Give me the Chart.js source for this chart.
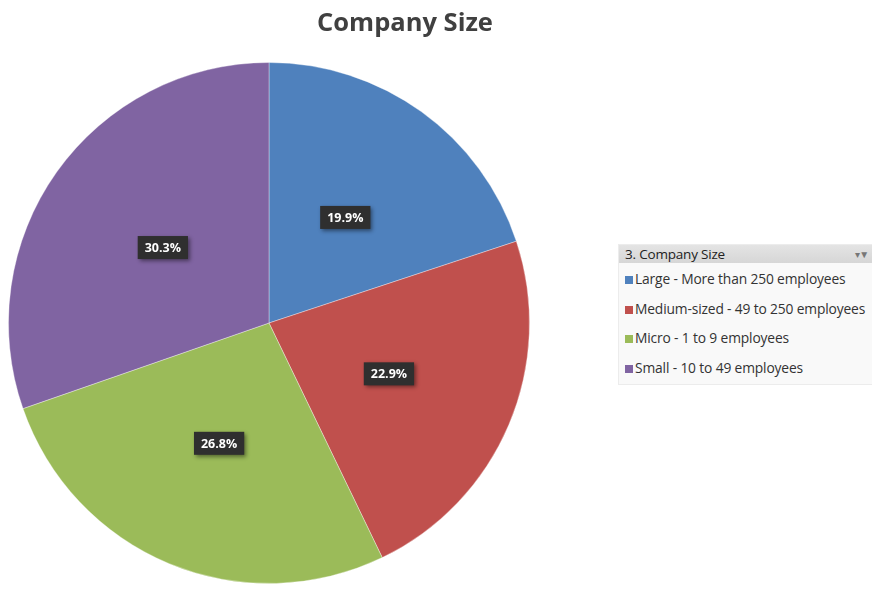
<!DOCTYPE html>
<html lang="en">
<head>
  <meta charset="utf-8">
  <script src="https://cdn.jsdelivr.net/npm/chart.js@4.4.1/dist/chart.umd.min.js"></script>
  <style>
    body { margin: 0; background: #fff; }
    .wrap { position: relative; width: 872px; height: 589px; overflow: hidden; background: #fff; }
    .chart-box { position: absolute; left: 0; top: 0; width: 872px; height: 589px; }
    .title {
      position: absolute; left: 0; top: 4px; width: 810px; text-align: center;
      font-family: 'Open Sans', 'Liberation Sans', sans-serif;
      font-size: 25.5px; font-weight: bold; color: #404040; margin: 0;
    }
    .legend {
      position: absolute; left: 618px; top: 244px; width: 262px; height: 139px;
      background: #f9f9f9; border: 1px solid #ececec;
      font-family: 'Open Sans', 'Liberation Sans', sans-serif; color: #333;
    }
    .legend .head {
      height: 18px; line-height: 18px; padding-left: 6px;
      background: linear-gradient(#e4e4e4, #d6d6d6);
      font-size: 13.5px; color: #222; position: relative; letter-spacing: -0.2px;
    }
    .legend .head .filt {
      position: absolute; right: 12px; top: 0; color: #777; font-size: 10px;
    }
    .legend ul { list-style: none; margin: 0; padding: 1px 0 0 0; }
    .legend li {
      height: 29.5px; line-height: 29.5px; font-size: 13.8px; white-space: nowrap;
      padding-left: 6px; letter-spacing: -0.15px;
    }
    .legend li span.sw {
      display: inline-block; width: 8px; height: 8px; margin-right: 2px; vertical-align: 0;
    }
  </style>
</head>
<body>
  <div class="wrap">
    <div class="chart-box"><canvas id="pie"></canvas></div>
    <h1 class="title">Company Size</h1>
    <div class="legend">
      <div class="head">3. Company Size<span class="filt">&#9662;&#9660;</span></div>
      <ul id="legendList"></ul>
    </div>
  </div>

  <script>
    const categories = [
      'Large - More than 250 employees',
      'Medium-sized - 49 to 250 employees',
      'Micro - 1 to 9 employees',
      'Small - 10 to 49 employees'
    ];
    const shares = [19.9, 22.9, 26.8, 30.3];
    const colors = ['#4F81BD', '#C0504D', '#9BBB59', '#8064A2'];

    // legend in the style of the pivot field list
    const list = document.getElementById('legendList');
    categories.forEach(function(name, i) {
      const li = document.createElement('li');
      li.innerHTML = '<span class="sw" style="background:' + colors[i] + '"></span>' + name;
      list.appendChild(li);
    });

    // dark boxed percentage labels
    const boxLabels = {
      id: 'boxLabels',
      afterDatasetsDraw(chart) {
        const ctx = chart.ctx;
        const meta = chart.getDatasetMeta(0);
        ctx.save();
        ctx.font = 'bold 12.5px "Open Sans", "Liberation Sans", sans-serif';
        ctx.textAlign = 'center';
        ctx.textBaseline = 'middle';
        meta.data.forEach(function(arc, i) {
          const p = arc.tooltipPosition();
          const txt = shares[i].toFixed(1) + '%';
          const w = ctx.measureText(txt).width + 14;
          const h = 23;
          ctx.shadowColor = 'rgba(0,0,0,0.45)';
          ctx.shadowBlur = 4;
          ctx.shadowOffsetX = 2;
          ctx.shadowOffsetY = 2;
          ctx.fillStyle = '#2f2f2f';
          ctx.fillRect(p.x - w / 2, p.y - h / 2, w, h);
          ctx.shadowColor = 'transparent';
          ctx.fillStyle = '#ffffff';
          ctx.fillText(txt, p.x, p.y + 1);
        });
        ctx.restore();
      }
    };

    new Chart(document.getElementById('pie'), {
      type: 'pie',
      data: {
        labels: categories,
        datasets: [{
          data: shares,
          backgroundColor: colors,
          borderColor: 'rgba(255,255,255,0.35)',
          borderWidth: 1
        }]
      },
      options: {
        responsive: true,
        maintainAspectRatio: false,
        animation: false,
        layout: { padding: { left: 8, right: 342, top: 62, bottom: 5 } },
        plugins: {
          legend: { display: false },
          tooltip: { enabled: false },
          title: { display: false }
        }
      },
      plugins: [boxLabels]
    });
  </script>
</body>
</html>
